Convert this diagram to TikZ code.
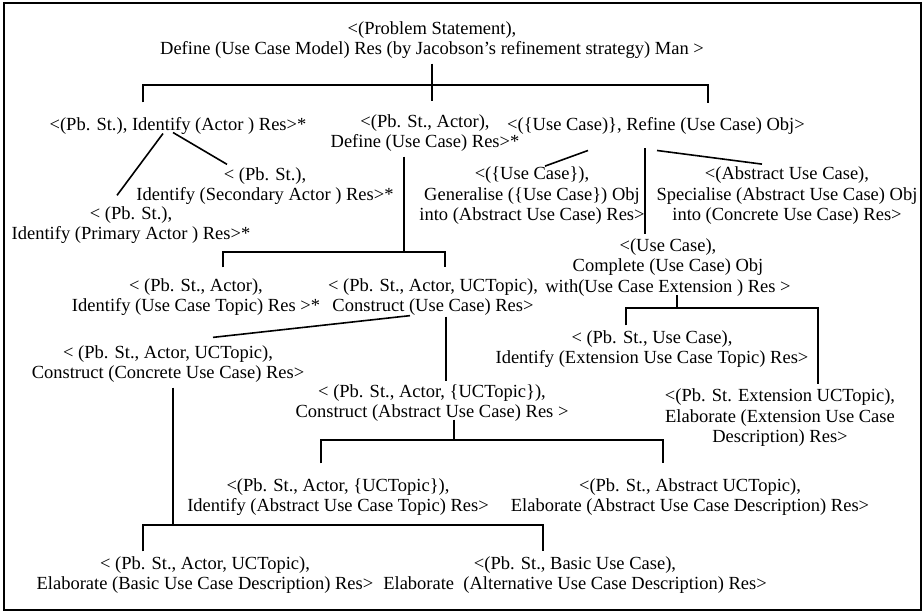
\documentclass[tikz,border=0pt]{standalone}
\usepackage{fontspec}
\setmainfont{Liberation Serif}
\usetikzlibrary{calc}
\begin{document}
\begin{tikzpicture}[x=0.5pt,y=-0.5pt,
  lbl/.style={align=center, inner sep=2.5pt, outer sep=0pt, font=\fontsize{9.25}{10.25}\selectfont},
  conn/.style={line width=0.8pt},
  frame/.style={line width=1pt}]
\useasboundingbox (0,0) rectangle (923,612);
\draw[frame] (4,3) rectangle (921,610);

% nodes
\node[lbl] (N0) at (432,40) {<(Problem Statement),\\Define (Use Case Model) Res (by Jacobson's refinement strategy) Man >};
\node[lbl] (A) at (178,126) {<(Pb. St.), Identify (Actor ) Res>*};
\node[lbl] (B) at (425,133) {<(Pb. St., Actor),\\Define (Use Case) Res>*};
\node[lbl] (C) at (656,126) {<(\{Use Case)\}, Refine (Use Case) Obj>};
\node[lbl] (A2) at (265,186) {< (Pb. St.),\\Identify (Secondary Actor ) Res>*};
\node[lbl] (A1) at (131,225) {< (Pb. St.),\\Identify (Primary Actor ) Res>*};
\node[lbl] (C1) at (532,196) {<(\{Use Case\}),\\Generalise (\{Use Case\}) Obj\\into (Abstract Use Case) Res>};
\node[lbl] (C2) at (787,196) {<(Abstract Use Case),\\Specialise (Abstract Use Case) Obj\\into (Concrete Use Case) Res>};
\node[lbl] (C3) at (668,267.5) {<(Use Case),\\Complete (Use Case) Obj\\with(Use Case Extension ) Res >};
\node[lbl] (C3a) at (652,349) {< (Pb. St., Use Case),\\Identify (Extension Use Case Topic) Res>};
\node[lbl] (C3b) at (780,418) {<(Pb. St. Extension UCTopic),\\Elaborate (Extension Use Case\\Description) Res>};
\node[lbl] (B1) at (196,297) {< (Pb. St., Actor),\\Identify (Use Case Topic) Res >*};
\node[lbl] (B2) at (433,297) {< (Pb. St., Actor, UCTopic),\\Construct (Use Case) Res>};
\node[lbl] (B2a) at (168,364) {< (Pb. St., Actor, UCTopic),\\Construct (Concrete Use Case) Res>};
\node[lbl] (B2b) at (432,403) {< (Pb. St., Actor, \{UCTopic\}),\\Construct (Abstract Use Case) Res >};
\node[lbl] (B2b1) at (338,497) {<(Pb. St., Actor, \{UCTopic\}),\\Identify (Abstract Use Case Topic) Res>};
\node[lbl] (B2b2) at (690,497) {<(Pb. St., Abstract UCTopic),\\Elaborate (Abstract Use Case Description) Res>};
\node[lbl] (BL1) at (205,575) {< (Pb. St., Actor, UCTopic),\\Elaborate (Basic Use Case Description) Res>};
\node[lbl] (BL2) at (575,575) {<(Pb. St., Basic Use Case),\\Elaborate~~(Alternative Use Case Description) Res>};

% junction coordinates
\coordinate (bar0L) at (143,85);
\coordinate (bar0R) at (708,85);
\coordinate (bar0M) at (432,85);
\coordinate (jB) at (404,252);
\coordinate (barBL) at (223,252);
\coordinate (barBR) at (445,252);
\coordinate (jC3) at (677,308);
\coordinate (barC3L) at (626,308);
\coordinate (barC3R) at (818,308);
\coordinate (jBb) at (454,440);
\coordinate (barBbL) at (321,440);
\coordinate (barBbR) at (663,440);
\coordinate (jL) at (173,525);
\coordinate (barLL) at (143,525);
\coordinate (barLR) at (543,525);

% connectors
\draw[conn, shorten <=5pt, shorten >=5pt] (A.north -| bar0L) -- (bar0L) -- (bar0R) -- (C.north -| bar0R);
\draw[conn, shorten >=4pt] (N0.south -| bar0M) -- (B.north -| bar0M);

\draw[conn] ($(A.south)+(-15,-6)$) -- ($(A1.north)+(-14,-6)$);
\draw[conn] ($(A.south)+(-5,-7)$) -- ($(A2.north)+(-38,2)$);

\draw[conn] (B.south -| jB) -- (jB);
\draw[conn, shorten <=3pt, shorten >=3pt] (B1.north -| barBL) -- (barBL) -- (barBR) -- (B2.north -| barBR);

\draw[conn] ($(C.south)+(-68,11)$) -- ($(C1.north)+(13,4)$);
\draw[conn] ($(C.south)+(-11,9)$) -- ($(C3.north)+(-23,0)$);
\draw[conn] ($(C.south)+(1,11)$) -- ($(C2.north)+(-25,2)$);

\draw[conn] ($(C3.south)+(9,-6)$) -- (jC3);
\draw[conn] (C3a.north -| barC3L) -- (barC3L) -- (barC3R) -- (C3b.north -| barC3R);

\draw[conn] ($(B2.south)+(-23,-5)$) -- ($(B2a.north)+(45,-3)$);
\draw[conn] ($(B2.south)+(13,-4)$) -- ($(B2b.north)+(14,2)$);

\draw[conn] ($(B2b.south)+(22,-7)$) -- (jBb);
\draw[conn, shorten <=5pt, shorten >=5pt] (B2b1.north -| barBbL) -- (barBbL) -- (barBbR) -- (B2b2.north -| barBbR);

\draw[conn] (B2a.south -| jL) -- (jL);
\draw[conn] (BL1.north -| barLL) -- (barLL) -- (barLR) -- (BL2.north -| barLR);
\end{tikzpicture}
\end{document}
